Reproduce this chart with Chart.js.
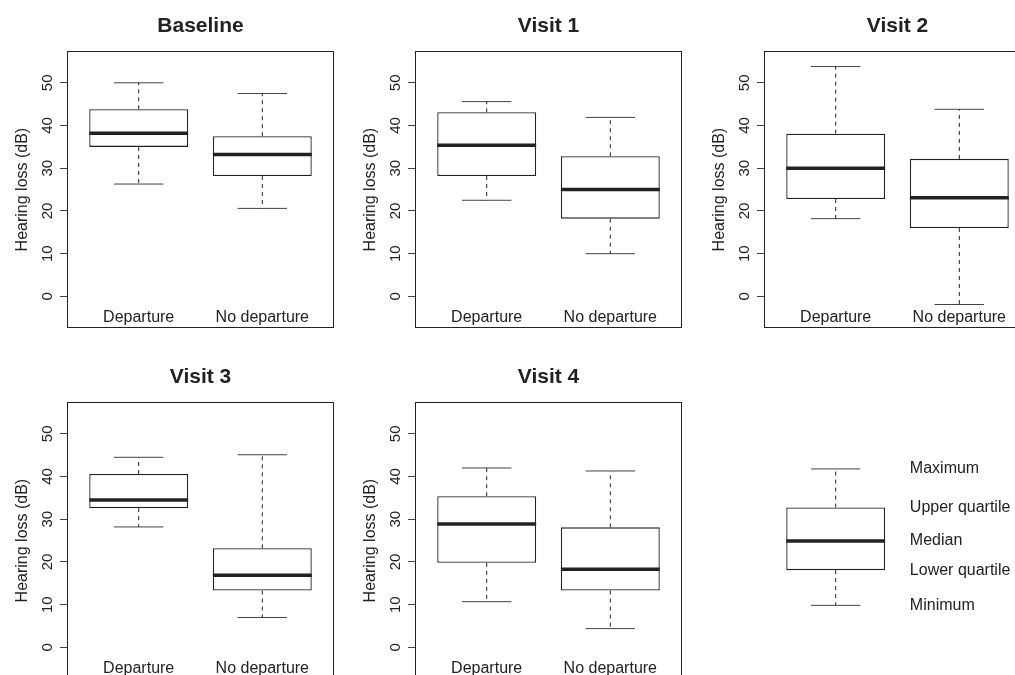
<!DOCTYPE html>
<html><head><meta charset="utf-8">
<script src="https://cdn.jsdelivr.net/npm/chart.js@4.4.1/dist/chart.umd.min.js"></script>
<style>
html,body{margin:0;padding:0;background:#fff;width:1015px;height:675px;overflow:hidden;position:relative}
.p{position:absolute}
canvas{display:block}
</style></head><body>
<div class="p" style="left:0px;top:0px"><canvas id="c0" width="400" height="341"></canvas></div>
<div class="p" style="left:348px;top:0px"><canvas id="c1" width="400" height="341"></canvas></div>
<div class="p" style="left:697px;top:0px"><canvas id="c2" width="400" height="341"></canvas></div>
<div class="p" style="left:0px;top:351px"><canvas id="c3" width="400" height="341"></canvas></div>
<div class="p" style="left:348px;top:351px"><canvas id="c4" width="400" height="341"></canvas></div>
<div class="p" style="left:697px;top:351px"><canvas id="c5" width="400" height="341"></canvas></div>
<script>
// ---- data ----
const categories = ['Departure', 'No departure'];
const categoryPositions = [1, 2];
const panelTitles = ['Baseline', 'Visit 1', 'Visit 2', 'Visit 3', 'Visit 4'];
const yTicks = [0, 10, 20, 30, 40, 50];
const yAxisTitle = 'Hearing loss (dB)';
// one row per panel: [Departure, No departure]
const minima  = [[26.3, 20.6], [22.5, 10.0], [18.2, -1.9], [28.2,  7.0], [10.7,  4.4]];
const lowerQ  = [[35.0, 28.2], [28.2, 18.2], [22.8, 16.0], [32.6, 13.3], [19.8, 13.3]];
const medians = [[38.2, 33.2], [35.4, 25.0], [30.0, 23.1], [34.5, 16.9], [28.9, 18.3]];
const upperQ  = [[43.8, 37.5], [43.1, 32.8], [38.1, 32.2], [40.6, 23.2], [35.4, 28.1]];
const maxima  = [[50.0, 47.5], [45.6, 41.9], [53.8, 43.8], [44.5, 45.1], [42.0, 41.3]];
// legend (key) box
const legendLabels = ['Minimum', 'Lower quartile', 'Median', 'Upper quartile', 'Maximum'];
const legendValues = [10.0, 18.2, 25.0, 32.8, 41.8];

// ---- styling ----
const FONT = '"Liberation Sans", Arial, Helvetica, sans-serif';
const INK = '#222';
const Y_MIN = -7.4, Y_MAX = 57.4, X_MIN = 0.42, X_MAX = 2.58;
const BOX_HALF = 0.4, CAP_HALF = 0.2, LABEL_X = 1.6;

function groupDatasets(pos, mn, q1, md, q3, mx) {
  const line = (pts, extra) => Object.assign({
    type: 'line', data: pts, borderColor: INK, borderWidth: 1, pointRadius: 0,
    fill: false, tension: 0, order: 3, borderCapStyle: 'butt'
  }, extra || {});
  return [
    line([{x: pos, y: q3}, {x: pos, y: mx}], {borderDash: [4, 4]}),
    line([{x: pos, y: q1}, {x: pos, y: mn}], {borderDash: [4, 4]}),
    line([{x: pos - CAP_HALF, y: mx}, {x: pos + CAP_HALF, y: mx}], {borderColor: '#444'}),
    line([{x: pos - CAP_HALF, y: mn}, {x: pos + CAP_HALF, y: mn}], {borderColor: '#444'}),
    line([{x: pos - BOX_HALF, y: md}, {x: pos + BOX_HALF, y: md}], {borderWidth: 3.5, order: 1})
  ];
}

const framePlugin = {
  id: 'frame',
  afterDatasetsDraw(chart, args, opts) {
    if (!opts || !opts.show) return;
    const a = chart.chartArea, ctx = chart.ctx;
    ctx.save();
    ctx.strokeStyle = INK; ctx.lineWidth = 1;
    ctx.strokeRect(Math.round(a.left) + 0.5, Math.round(a.top) + 0.5,
      Math.round(a.right - a.left) - 1, Math.round(a.bottom - a.top) - 1);
    ctx.restore();
  }
};

const keyTextPlugin = {
  id: 'keyText',
  afterDatasetsDraw(chart, args, opts) {
    if (!opts || !opts.show) return;
    const ctx = chart.ctx, xs = chart.scales.x, ys = chart.scales.y;
    ctx.save();
    ctx.font = '16px ' + FONT; ctx.fillStyle = INK;
    ctx.textAlign = 'left'; ctx.textBaseline = 'middle';
    legendLabels.forEach((t, i) => ctx.fillText(t, xs.getPixelForValue(LABEL_X), ys.getPixelForValue(legendValues[i])));
    ctx.restore();
  }
};

function makeChart(id, title, boxes, isKey) {
  const bars = [], lines = [];
  boxes.forEach(b => {
    bars.push({x: b.pos, y: [b.q1, b.q3]});
    lines.push(...groupDatasets(b.pos, b.mn, b.q1, b.md, b.q3, b.mx));
  });
  const datasets = [{
    type: 'bar', data: bars, backgroundColor: '#fff', borderColor: INK, borderWidth: 1.3,
    borderSkipped: false, barPercentage: 0.8, categoryPercentage: 1, grouped: false, order: 2
  }].concat(lines);

  new Chart(document.getElementById(id), {
    type: 'bar',
    data: {datasets},
    options: {
      responsive: false, animation: false, devicePixelRatio: 1,
      events: [],
      layout: {padding: {left: 0, right: 66, top: isKey ? 51 : 0, bottom: 0}},
      plugins: {
        legend: {display: false}, tooltip: {enabled: false},
        title: {
          display: !isKey, text: title, fullSize: false, color: INK,
          font: {family: FONT, size: 21, weight: 'bold'},
          padding: {top: 14, bottom: 12}
        },
        frame: {show: !isKey},
        keyText: {show: isKey}
      },
      scales: {
        x: {
          type: 'linear', min: X_MIN, max: X_MAX, offset: false,
          afterBuildTicks: s => { s.ticks = categoryPositions.map(v => ({value: v})); },
          afterFit: s => { s.height = 12; },
          grid: {display: false, drawTicks: false},
          border: {display: false},
          ticks: {
            display: !isKey, autoSkip: false, maxRotation: 0, mirror: true, padding: 1, color: INK,
            font: {family: FONT, size: 16},
            callback: v => categories[categoryPositions.indexOf(v)]
          }
        },
        y: {
          type: 'linear', min: Y_MIN, max: Y_MAX,
          afterBuildTicks: s => { s.ticks = yTicks.map(v => ({value: v})); },
          afterFit: s => { s.width = 67; },
          grid: {display: !isKey, drawOnChartArea: false, drawTicks: true, tickLength: 7, color: '#444', lineWidth: 1},
          border: {display: false},
          ticks: {
            display: !isKey, autoSkip: false, minRotation: 90, maxRotation: 90,
            crossAlign: 'center', padding: 4, color: INK,
            font: {family: FONT, size: 15}
          },
          title: {
            display: !isKey, text: yAxisTitle, color: INK,
            font: {family: FONT, size: 16}, padding: {top: 12.5, bottom: 0}
          }
        }
      }
    },
    plugins: [framePlugin, keyTextPlugin]
  });
}

panelTitles.forEach((t, p) => {
  const boxes = categoryPositions.map((pos, i) => ({
    pos, mn: minima[p][i], q1: lowerQ[p][i], md: medians[p][i], q3: upperQ[p][i], mx: maxima[p][i]
  }));
  makeChart('c' + p, t, boxes, false);
});
makeChart('c5', '', [{
  pos: categoryPositions[0], mn: legendValues[0], q1: legendValues[1], md: legendValues[2],
  q3: legendValues[3], mx: legendValues[4]
}], true);
</script>
</body></html>
